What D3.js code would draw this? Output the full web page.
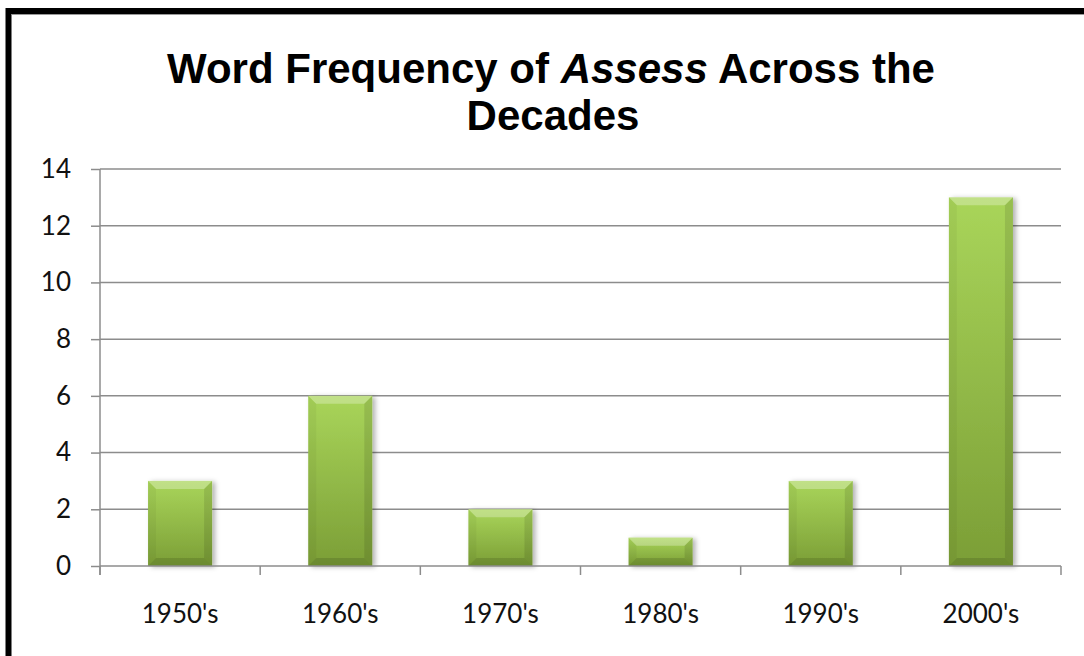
<!DOCTYPE html>
<meta charset="utf-8">
<style>
body { margin: 0; background: #fff; }
.tick text { font-family: Lato, "Open Sans", sans-serif; font-size: 26px; fill: #111; }
</style>
<body>
<div id="chart"></div>
<script src="https://d3js.org/d3.v7.min.js"></script>
<script>
// data
var decades = ["1950's", "1960's", "1970's", "1980's", "1990's", "2000's"];
var counts = [3, 6, 2, 1, 3, 13];
var yTicks = [0, 2, 4, 6, 8, 10, 12, 14];

var W = 1084, H = 656;
var plot = {left: 100, right: 1061, top: 169, bottom: 566};

var svg = d3.select("#chart").append("svg")
    .attr("width", W)
    .attr("height", H);

var defs = svg.append("defs");
var grad = defs.append("linearGradient")
    .attr("id", "barFill")
    .attr("x1", 0).attr("y1", 0).attr("x2", 0).attr("y2", 1);
grad.append("stop").attr("offset", "0%").attr("stop-color", "#a9d55a");
grad.append("stop").attr("offset", "100%").attr("stop-color", "#7b9e36");

var shadow = defs.append("filter").attr("id", "shadow")
    .attr("x", "-20%").attr("y", "-20%").attr("width", "150%").attr("height", "140%");
shadow.append("feDropShadow")
    .attr("dx", 3).attr("dy", 1).attr("stdDeviation", 2.5)
    .attr("flood-color", "#000").attr("flood-opacity", 0.3);

// frame (right and bottom are cut off in the original)
svg.append("rect")
    .attr("x", 8.5).attr("y", 11)
    .attr("width", W + 20).attr("height", H + 20)
    .attr("fill", "none")
    .attr("stroke", "#000")
    .attr("stroke-width", 6);
svg.append("line")
    .attr("x1", 11.5).attr("x2", W).attr("y1", 14.5).attr("y2", 14.5)
    .attr("stroke", "#999").attr("stroke-width", 1);

// title
var title = svg.append("text")
    .attr("text-anchor", "middle")
    .attr("font-family", "'Liberation Sans', Arial, sans-serif")
    .attr("font-weight", "bold")
    .attr("font-size", 42)
    .attr("fill", "#000");
var line1 = title.append("tspan").attr("x", 551).attr("y", 83);
line1.append("tspan").text("Word Frequency of ");
line1.append("tspan").attr("font-style", "italic").text("Assess");
line1.append("tspan").text(" Across the");
title.append("tspan").attr("x", 553).attr("y", 130).text("Decades");

var x = d3.scaleBand()
    .domain(decades)
    .range([plot.left, plot.right])
    .paddingInner(0.6)
    .paddingOuter(0.3);

var y = d3.scaleLinear()
    .domain([0, 14])
    .range([plot.bottom, plot.top]);

// gridlines
svg.append("g")
    .selectAll("line")
    .data(yTicks.filter(function(d) { return d > 0; }))
    .enter()
    .append("line")
    .attr("x1", plot.left).attr("x2", plot.right)
    .attr("y1", function(d) { return y(d); })
    .attr("y2", function(d) { return y(d); })
    .attr("stroke", "#8c8c8c")
    .attr("stroke-width", 1.5);

// y axis
var yAxis = svg.append("g")
    .attr("transform", "translate(" + plot.left + ",0)")
    .call(d3.axisLeft(y).tickValues(yTicks).tickSize(9).tickPadding(20));
yAxis.selectAll("line").attr("stroke", "#8c8c8c").attr("stroke-width", 1.5);
yAxis.select(".domain").attr("stroke", "#8c8c8c").attr("stroke-width", 1.5)
    .attr("d", "M0," + plot.top + "V" + (plot.bottom + 9));

// bars
var bw = x.bandwidth(), bev = 8;
var bars = svg.append("g")
    .selectAll("g")
    .data(counts)
    .enter()
    .append("g")
    .attr("transform", function(d, i) {
        return "translate(" + x(decades[i]) + "," + y(d) + ")";
    });

bars.append("rect")
    .attr("width", bw)
    .attr("height", function(d) { return y(0) - y(d); })
    .attr("fill", "url(#barFill)")
    .attr("filter", "url(#shadow)");

// bevel edges
bars.append("path")
    .attr("d", "M0,0H" + bw + "L" + (bw - bev) + "," + bev + "H" + bev + "Z")
    .attr("fill", "#fff").attr("fill-opacity", 0.28);
bars.append("path")
    .attr("d", function(d) {
        var h = y(0) - y(d);
        return "M0,0L" + bev + "," + bev + "V" + (h - bev) + "L0," + h + "Z";
    })
    .attr("fill", "#000").attr("fill-opacity", 0.04);
bars.append("path")
    .attr("d", function(d) {
        var h = y(0) - y(d);
        return "M" + bw + ",0L" + (bw - bev) + "," + bev + "V" + (h - bev) + "L" + bw + "," + h + "Z";
    })
    .attr("fill", "#000").attr("fill-opacity", 0.1);
bars.append("path")
    .attr("d", function(d) {
        var h = y(0) - y(d);
        return "M0," + h + "L" + bev + "," + (h - bev) + "H" + (bw - bev) + "L" + bw + "," + h + "Z";
    })
    .attr("fill", "#000").attr("fill-opacity", 0.12);

// x axis
var xAxis = svg.append("g")
    .attr("transform", "translate(0," + plot.bottom + ")")
    .call(d3.axisBottom(x).tickSize(0).tickPadding(39));
xAxis.select(".domain").attr("stroke", "#8c8c8c").attr("stroke-width", 1.5)
    .attr("d", "M" + plot.left + ",0H" + plot.right);

var step = x.step();
var bounds = decades.map(function(d) { return x(d) - step * 0.3; });
bounds.push(plot.right);
xAxis.selectAll(".bound")
    .data(bounds)
    .enter()
    .append("line")
    .attr("class", "bound")
    .attr("x1", function(d) { return d; })
    .attr("x2", function(d) { return d; })
    .attr("y1", 0).attr("y2", 9)
    .attr("stroke", "#8c8c8c")
    .attr("stroke-width", 1.5);
</script>
</body>
